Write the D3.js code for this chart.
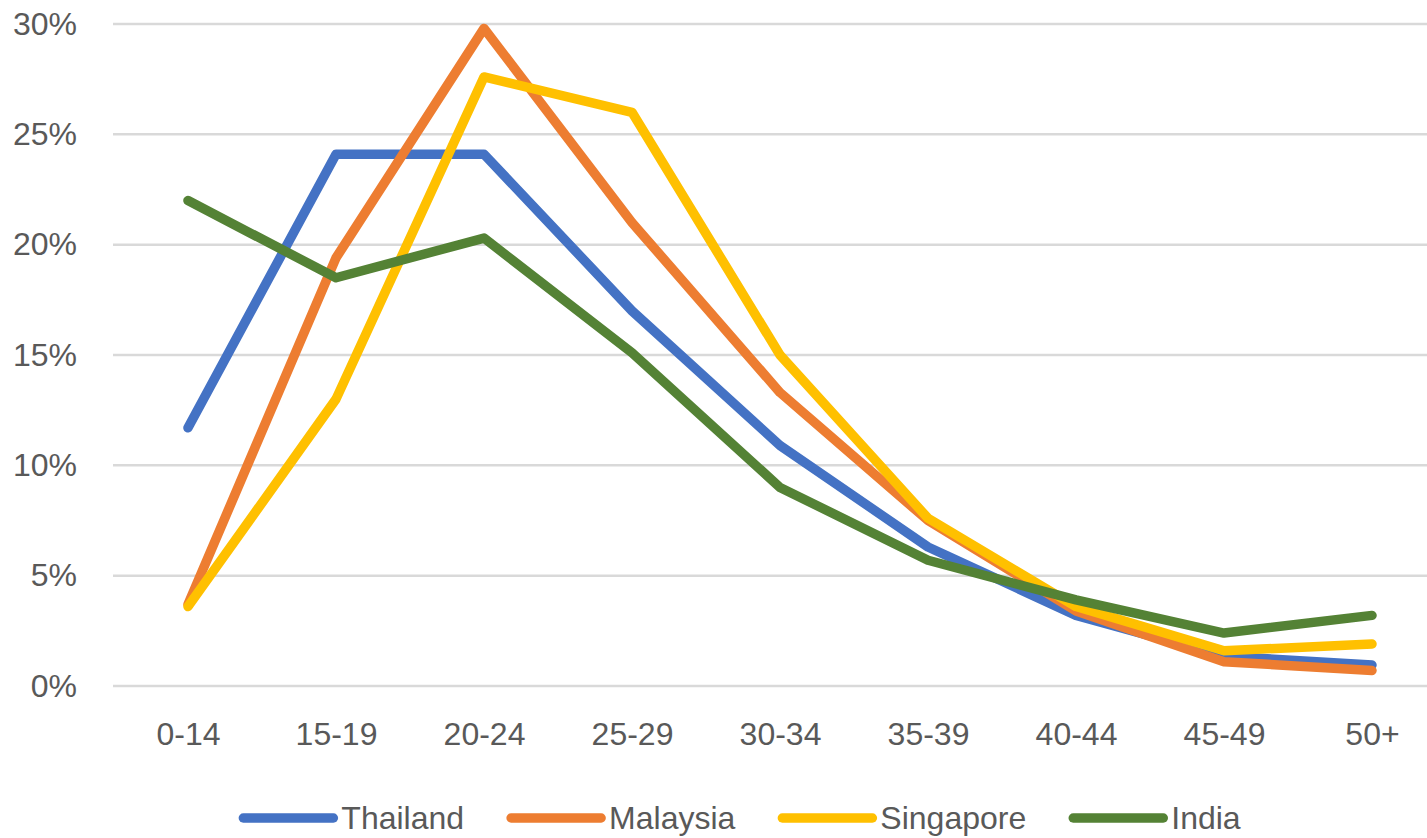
<!DOCTYPE html>
<html>
<head>
<meta charset="utf-8">
<script src="https://cdn.jsdelivr.net/npm/d3@7"></script>
<style>
  html, body { margin: 0; padding: 0; background: #fff; }
  svg { display: block; font-family: "Liberation Sans", Arial, sans-serif; }
</style>
</head>
<body>
<svg id="chart" width="1427" height="838"></svg>
<script>
// Age groups on the x axis
const ageGroups = ["0-14", "15-19", "20-24", "25-29", "30-34", "35-39", "40-44", "45-49", "50+"];

// Share of each age group, in percent
const thailand  = [11.7, 24.1, 24.1, 17.0, 10.9, 6.3, 3.2, 1.35, 0.95];
const malaysia  = [3.7, 19.4, 29.8, 21.0, 13.3, 7.5, 3.4, 1.1, 0.7];
const singapore = [3.6, 13.0, 27.6, 26.0, 15.0, 7.6, 3.6, 1.6, 1.9];
const india     = [22.0, 18.5, 20.3, 15.1, 9.0, 5.7, 3.9, 2.4, 3.2];

const yTicks = [0, 5, 10, 15, 20, 25, 30];

const seriesNames = ["Thailand", "Malaysia", "Singapore", "India"];
const seriesValues = [thailand, malaysia, singapore, india];
const seriesColors = ["#4472C4", "#ED7D31", "#FFC000", "#548235"];

const svg = d3.select("#chart");
const textColor = "#595959";
const fontSize = 32;

const x = d3.scalePoint().domain(ageGroups).range([114, 1446]).padding(0.5);
const y = d3.scaleLinear().domain([0, 30]).range([686, 24]);

// Horizontal gridlines
svg.append("g")
  .selectAll("line")
  .data(yTicks)
  .join("line")
  .attr("x1", 113)
  .attr("x2", 1427)
  .attr("y1", d => y(d))
  .attr("y2", d => y(d))
  .attr("stroke", "#d9d9d9")
  .attr("stroke-width", 2.5);

// Y axis labels
const yAxis = d3.axisLeft(y).tickValues(yTicks).tickSize(0).tickPadding(0)
  .tickFormat(d => d + "%");
svg.append("g")
  .attr("transform", "translate(77,0)")
  .call(yAxis)
  .call(g => g.select(".domain").remove())
  .call(g => g.selectAll("text")
    .attr("fill", textColor)
    .attr("font-size", fontSize)
    .attr("font-family", "Liberation Sans, Arial, sans-serif"));

// X axis labels
const xAxis = d3.axisBottom(x).tickSize(0).tickPadding(0);
svg.append("g")
  .attr("transform", "translate(0,722)")
  .call(xAxis)
  .call(g => g.select(".domain").remove())
  .call(g => g.selectAll("text")
    .attr("fill", textColor)
    .attr("font-size", fontSize)
    .attr("font-family", "Liberation Sans, Arial, sans-serif"));

// Series lines
const line = d3.line()
  .x((d, i) => x(ageGroups[i]))
  .y(d => y(d));

svg.append("g")
  .selectAll("path")
  .data(seriesValues)
  .join("path")
  .attr("d", d => line(d))
  .attr("fill", "none")
  .attr("stroke", (d, i) => seriesColors[i])
  .attr("stroke-width", 9.5)
  .attr("stroke-linecap", "round")
  .attr("stroke-linejoin", "round");

// Legend
const legend = svg.append("g");
const swatchLen = 90, swatchGap = 8, itemGap = 47, legendY = 818;
const items = legend.selectAll("g")
  .data(seriesNames)
  .join("g");
items.append("line")
  .attr("x1", 0).attr("x2", swatchLen)
  .attr("y1", 0).attr("y2", 0)
  .attr("stroke", (d, i) => seriesColors[i])
  .attr("stroke-width", 9.5)
  .attr("stroke-linecap", "round");
items.append("text")
  .attr("x", swatchLen + swatchGap)
  .attr("y", 0)
  .attr("dy", "0.35em")
  .attr("fill", textColor)
  .attr("font-size", fontSize)
  .text(d => d);

let cursor = 0;
const offsets = [];
items.each(function () {
  offsets.push(cursor);
  const w = d3.select(this).select("text").node().getComputedTextLength();
  cursor += swatchLen + swatchGap + w + itemGap;
});
const totalWidth = cursor - itemGap;
const startX = 742 - totalWidth / 2;
items.attr("transform", (d, i) => `translate(${startX + offsets[i]},${legendY})`);
</script>
</body>
</html>
